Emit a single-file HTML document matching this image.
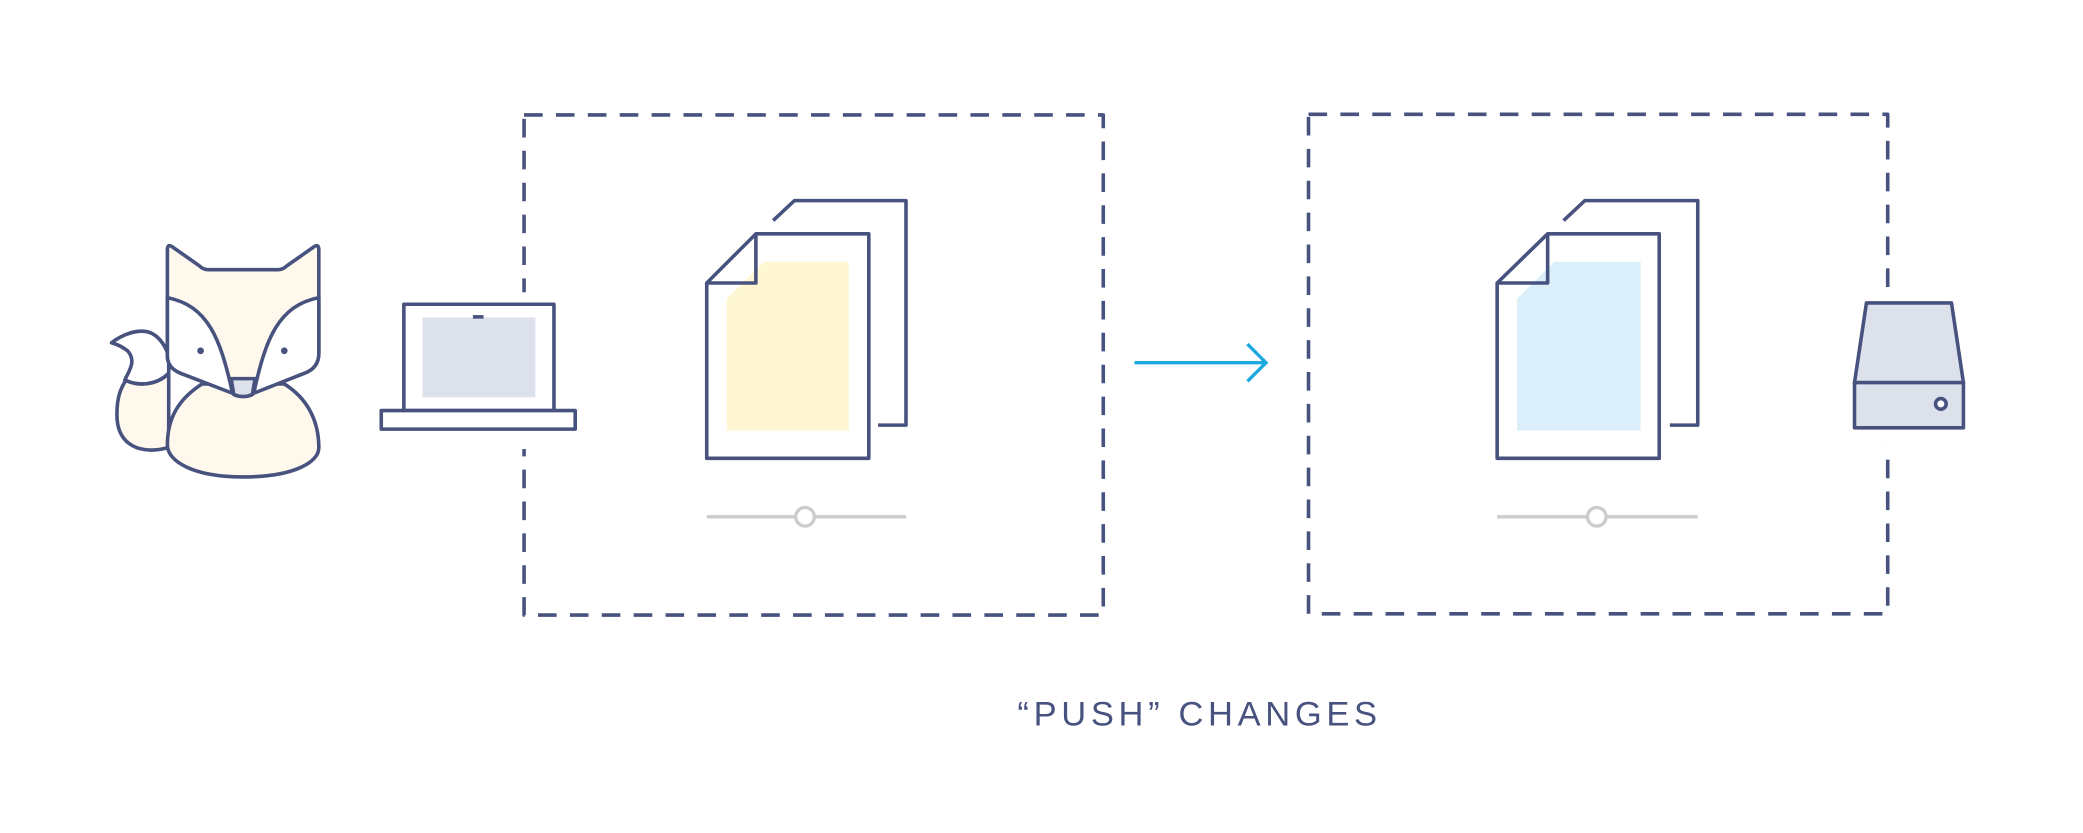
<!DOCTYPE html>
<html><head><meta charset="utf-8"><style>
html,body{margin:0;padding:0;background:#fff;}
svg{display:block;}
</style></head><body>
<svg width="2083" height="833" viewBox="0 0 1568 627" xmlns="http://www.w3.org/2000/svg">
<g fill="none" stroke="#48527f" stroke-width="2.7" stroke-linejoin="round">
<rect x="394.5" y="86.5" width="436" height="376.5" stroke-dasharray="14 10"/>
<rect x="985" y="86" width="436" height="376" stroke-dasharray="14 10"/>
<rect x="388" y="220" width="14" height="118" fill="#fff" stroke="none"/>
<rect x="1414" y="220" width="14" height="116" fill="#fff" stroke="none"/>

<path d="M126,337 C108,342 88,337 88,312 C88,298 91,292 96,284 C101,276 103,270 96,264 C92,261 88,259 84,258 C96,249 109,247 116,252 C122,256 125,262 127,268 L127,330 Z" fill="#fff8ec"/>
<path d="M84,258 C96,249 109,247 116,252 C122,256 125,262 127,268 L127,281 C118,290 104,291 94,286 C97,279 103,272 96,264 C92,261 88,259 84,258Z" fill="#fff"/>
<path d="M94,286 C104,291 118,290 127,281"/>
<path d="M152,289 C135,300 126,314 126,335 C126,347 145,359 183,359 C221,359 240,348 240,337 C240,315 230,299 214,289 Z" fill="#fff8ec"/>
<path d="M126,188 L126,268 Q126,277 136,281 L183,298 L229,281 Q240,277 240,266 L240,188 Q240,183 236,186 L216,200 Q213,203 209,203 L157,203 Q153,203 150,200 L130,186 Q126,183 126,188Z" fill="#fff8ec"/>
<path d="M126,224 C156,230 166,254 175,296 L136,281 Q126,277 126,268Z" fill="#fff"/>
<path d="M240,224 C210,230 200,254 191,296 L229,281 Q240,277 240,266Z" fill="#fff"/>
<path d="M174,285 L192,285 L190,297 Q183,300 176,297Z" fill="#dde1ec"/>
<circle cx="151" cy="264" r="2.5" fill="#48527f" stroke="none"/>
<circle cx="214" cy="264" r="2.5" fill="#48527f" stroke="none"/>

<rect x="304" y="229" width="113" height="80" fill="#fff"/>
<rect x="318" y="239" width="85" height="60" fill="#dde1ec" stroke="none"/>
<line x1="356" y1="238.5" x2="364" y2="238.5"/>
<rect x="287" y="309" width="146" height="14" fill="#fff"/>

<path d="M582,166 L598,151 L682,151 L682,320 L661,320"/>
<path d="M532,213 L569,176 L654,176 L654,345 L532,345Z" fill="#fff"/>
<path d="M547,225 L575,197 L639,197 L639,324 L547,324Z" fill="#fff7d1" stroke="none"/>
<path d="M532,213 L569,213 L569,176"/>
<path d="M1177,166 L1193,151 L1278,151 L1278,320 L1257,320"/>
<path d="M1127,213 L1165,176 L1249,176 L1249,345 L1127,345Z" fill="#fff"/>
<path d="M1142,225 L1170,197 L1235,197 L1235,324 L1142,324Z" fill="#dbeffa" stroke="none"/>
<path d="M1127,213 L1165,213 L1165,176"/>

<path d="M1405,228 L1469,228 L1478,288 L1396,288Z" fill="#dde1ec"/>
<rect x="1396" y="288" width="82" height="34" fill="#dde1ec"/>
<circle cx="1461" cy="304" r="4" fill="#fff"/>
</g>
<g stroke="#cccccc" stroke-width="2.5" fill="#fff">
<line x1="532" y1="389" x2="682" y2="389"/>
<circle cx="606" cy="389" r="7"/>
<line x1="1127" y1="389" x2="1278" y2="389"/>
<circle cx="1202" cy="389" r="7"/>
</g>
<g stroke="#1ba9e0" stroke-width="2.5" fill="none">
<line x1="854" y1="273" x2="952" y2="273"/>
<path d="M939,259 L953,273 L939,287"/>
</g>
<text x="903" y="546" text-anchor="middle" font-family="Liberation Sans, sans-serif" font-size="26" letter-spacing="3.5" fill="#48527f">“PUSH” CHANGES</text>
</svg>
</body></html>
